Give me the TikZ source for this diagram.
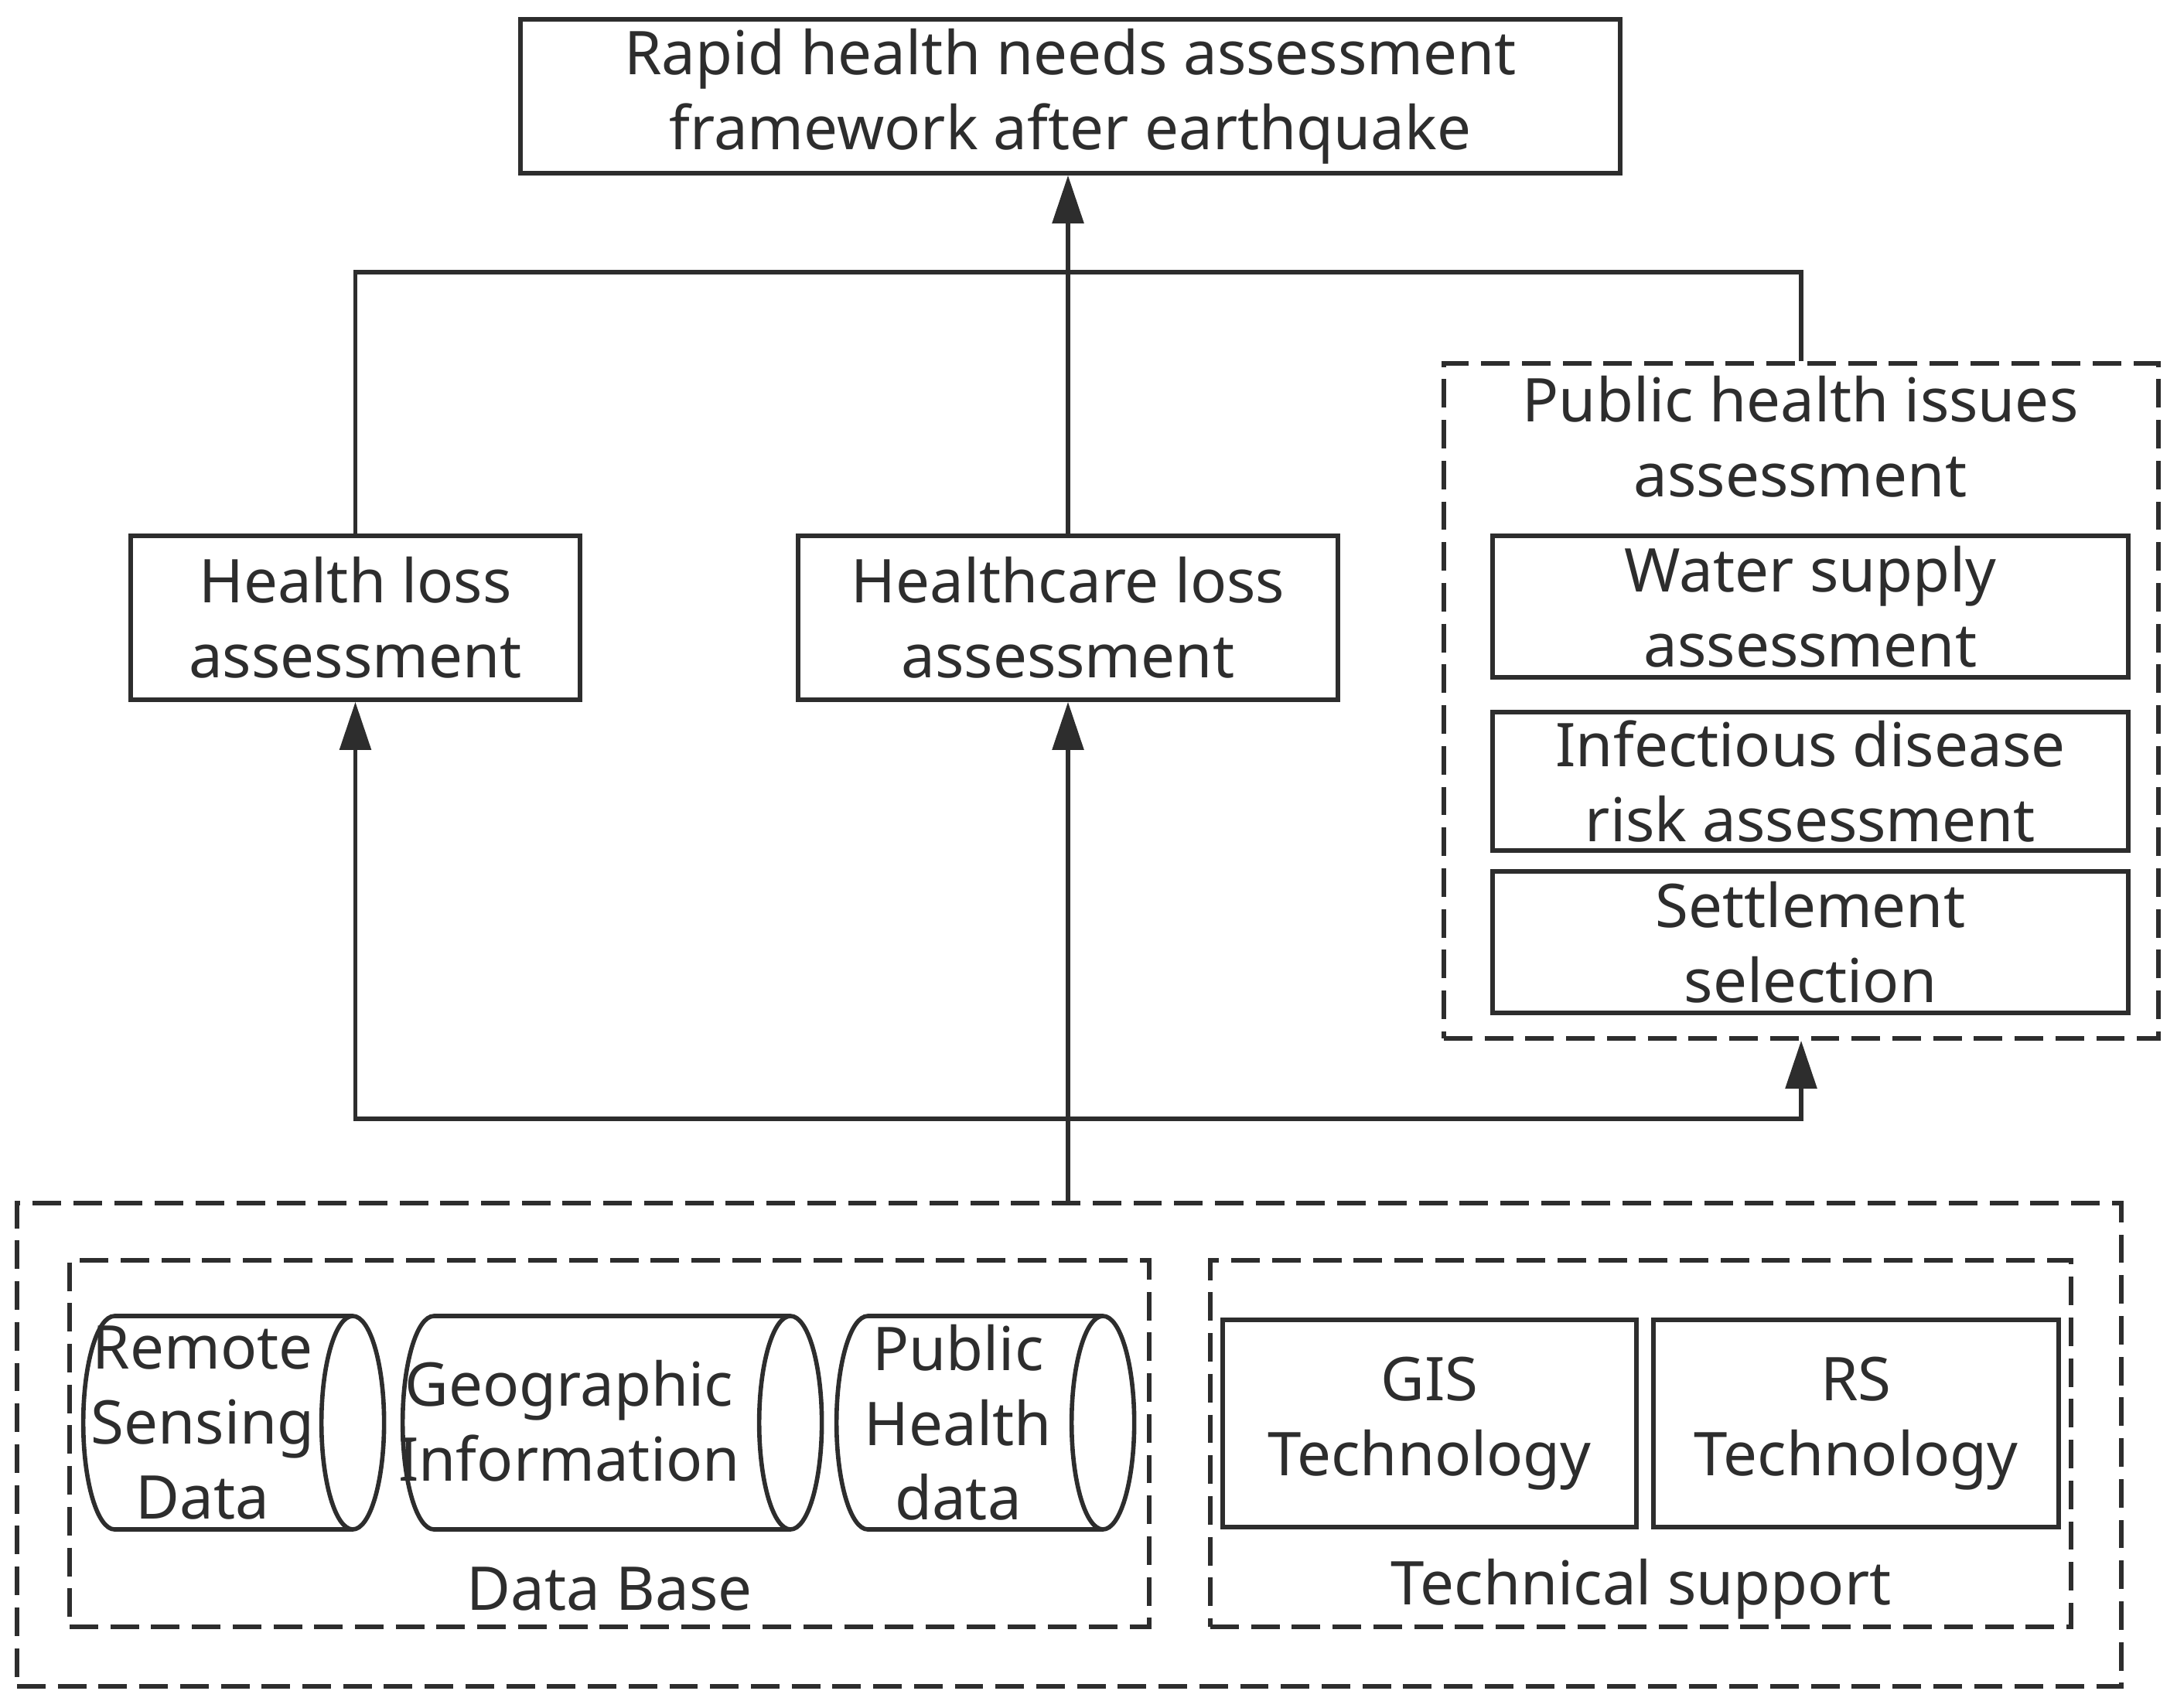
\documentclass[tikz,border=0pt]{standalone}
\usepackage{fontspec}
\setmainfont{Noto Sans}
\usetikzlibrary{shapes.geometric,arrows.meta}
\definecolor{ink}{RGB}{45,45,45}
\begin{document}
\begin{tikzpicture}
  [every node/.style={align=center, text=ink, font=\fontsize{22.2}{27.5}\selectfont},
    box/.style={draw=ink, line width=1.6pt, inner sep=0pt},
    dbox/.style={draw=ink, line width=1.6pt, inner sep=0pt,
    dash pattern=on 10.5pt off 4.5pt},
    cyl/.style={cylinder, draw=ink, line width=1.6pt, inner sep=0pt,
    aspect=0.3, minimum width=2.76cm},
    link/.style={draw=ink, line width=1.6pt},
    arr/.style={link, -{Triangle[length=6.2mm, width=4mm]}}]
  \useasboundingbox (0,0) rectangle (28.15,-22.08);
  \node[box, minimum width=14.22cm, minimum height=1.99cm] (top) at (13.84,-1.245)
    {Rapid health needs assessment\\framework after earthquake};
  \node[box, minimum width=5.81cm, minimum height=2.12cm] (hloss) at (4.595,-7.99)
    {Health loss\\assessment};
  \node[box, minimum width=6.98cm, minimum height=2.12cm] (hcloss) at (13.81,-7.99)
    {Healthcare loss\\assessment};
  \node[dbox, minimum width=9.24cm, minimum height=8.73cm] (public) at (23.29,-9.065) {};
  \node (pubtitle) at (23.28,-5.65) {Public health issues\\assessment};
  \node[box, minimum width=8.22cm, minimum height=1.83cm] (water) at (23.41,-7.845)
    {Water supply\\assessment};
  \node[box, minimum width=8.22cm, minimum height=1.79cm] (infect) at (23.41,-10.105)
    {Infectious disease\\risk assessment};
  \node[box, minimum width=8.22cm, minimum height=1.83cm] (settle) at (23.41,-12.185)
    {Settlement\\selection};
  \node[dbox, minimum width=27.21cm, minimum height=6.25cm] (outer) at (13.825,-18.685) {};
  \node[dbox, minimum width=13.96cm, minimum height=4.74cm] (database) at (7.88,-18.67) {};
  \node[dbox, minimum width=11.13cm, minimum height=4.74cm] (techsup) at (21.215,-18.67) {};
  \node (dblabel) at (7.88,-20.55) {Data Base};
  \node (tslabel) at (21.22,-20.55) {Technical support};
  \node[cyl, minimum height=3.89cm] (remote) at (2.805,-18.40) {\rule{0pt}{2.7cm}};
  \node[cyl, minimum height=5.42cm] (geo) at (7.70,-18.40) {\rule{0pt}{2.7cm}};
  \node[cyl, minimum height=3.85cm] (phdata) at (12.525,-18.40) {\rule{0pt}{2.7cm}};
  \node (remotetxt) at (2.62,-18.40) {Remote\\Sensing\\Data};
  \node (geotxt) at (7.36,-18.38) {Geographic\\Information};
  \node (phtxt) at (12.39,-18.40) {Public\\Health\\data};
  \node[box, minimum width=5.35cm, minimum height=2.68cm] (gis) at (18.485,-18.41)
    {GIS\\Technology};
  \node[box, minimum width=5.24cm, minimum height=2.68cm] (rs) at (24.0,-18.41)
    {RS\\Technology};
  \coordinate (joinT) at (13.82,-3.52);
  \coordinate (joinB) at (13.82,-14.47);
  \draw[link] (hloss.north) |- (joinT) -| (public.north);
  \draw[arr] (hcloss.north) -- (hcloss.north |- top.south);
  \draw[arr] (hcloss.south |- outer.north) -- (hcloss.south);
  \draw[arr] (joinB) -| (hloss.south);
  \draw[arr] (joinB) -| (public.south);
\end{tikzpicture}
\end{document}
